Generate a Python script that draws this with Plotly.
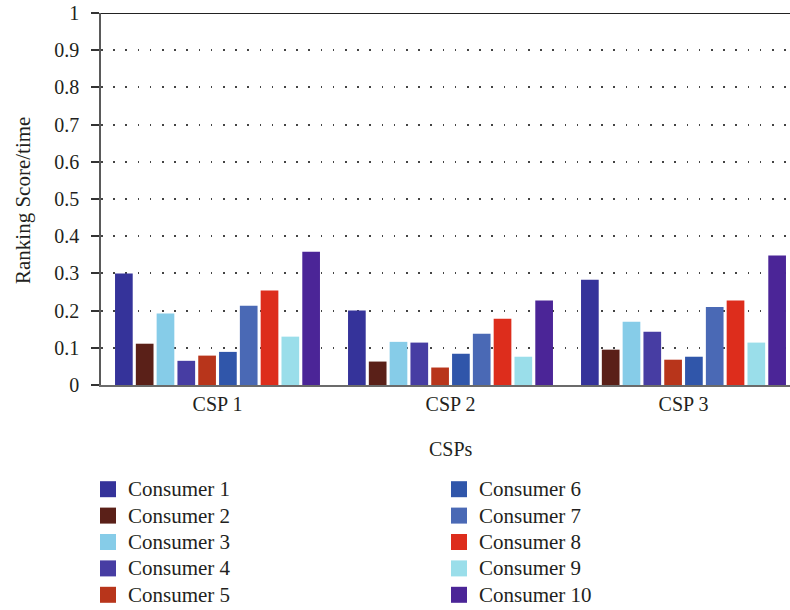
import plotly.graph_objects as go

# Ranking score per consumer for each cloud service provider
csps = ["CSP 1", "CSP 2", "CSP 3"]
consumers = [f"Consumer {i}" for i in range(1, 11)]

consumer_1 = [0.300, 0.200, 0.283]
consumer_2 = [0.111, 0.063, 0.095]
consumer_3 = [0.192, 0.116, 0.170]
consumer_4 = [0.065, 0.114, 0.143]
consumer_5 = [0.079, 0.047, 0.068]
consumer_6 = [0.089, 0.084, 0.076]
consumer_7 = [0.213, 0.138, 0.210]
consumer_8 = [0.254, 0.178, 0.227]
consumer_9 = [0.130, 0.076, 0.114]
consumer_10 = [0.358, 0.227, 0.348]

series = [consumer_1, consumer_2, consumer_3, consumer_4, consumer_5,
          consumer_6, consumer_7, consumer_8, consumer_9, consumer_10]

colors = ["#35339A", "#5A2018", "#86CCE8", "#473DA3", "#B8351B",
          "#3056AA", "#4A69B5", "#DD2D1C", "#9ADEEA", "#4B2597"]

y_ticks = [round(0.1 * i, 1) for i in range(11)]
y_tick_text = ["0"] + [f"{v:g}" for v in y_ticks[1:-1]] + ["1"]

FONT = "Liberation Serif"
TEXT = "#231f20"

fig = go.Figure()

for name, vals, col in zip(consumers, series, colors):
    fig.add_trace(go.Bar(
        x=csps, y=vals, name=name, marker=dict(color=col, line=dict(width=0)),
        showlegend=False,
    ))

# Legend entries with square swatches, split into two columns
for i, (name, col) in enumerate(zip(consumers, colors)):
    fig.add_trace(go.Scatter(
        x=[None], y=[None], mode="markers", name=f'<span style="font-size:21px">{name}</span>',
        marker=dict(symbol="square", size=16, color=col, line=dict(width=0)),
        legend="legend" if i < 5 else "legend2",
    ))

PLOT_L, PLOT_R, PLOT_T, PLOT_B = 101, 790, 13, 385
W, H = 790, 610
pw = PLOT_R - PLOT_L
ph = PLOT_B - PLOT_T

LEG_TOP = 471
legend_common = dict(
    font=dict(family=FONT, size=18, color=TEXT),
    bgcolor="rgba(0,0,0,0)", borderwidth=0,
    xref="container", yref="container",
    xanchor="left", yanchor="top", orientation="v",
    itemclick=False,
)

fig.update_layout(
    width=W, height=H,
    margin=dict(l=PLOT_L, r=W - PLOT_R, t=PLOT_T, b=H - PLOT_B, pad=0, autoexpand=False),
    paper_bgcolor="white", plot_bgcolor="white",
    font=dict(family=FONT, size=20, color=TEXT),
    barmode="group", bargap=0.107, bargroupgap=0.15,
    legend=dict(x=88 / W, y=1 - LEG_TOP / H, **legend_common),
    legend2=dict(x=439 / W, y=1 - LEG_TOP / H, **legend_common),
    xaxis=dict(
        type="category", range=[-0.5, 2 + (PLOT_R - 683.5) / 233],
        showline=True, linecolor="#6b6b6b", linewidth=2,
        ticks="", showgrid=False, zeroline=False,
        tickfont=dict(family=FONT, size=20, color=TEXT),
        ticklabelstandoff=0,
    ),
    yaxis=dict(
        range=[0, 1], tickvals=y_ticks, ticktext=y_tick_text,
        showline=True, linecolor="#5a5a5a", linewidth=1.5,
        ticks="outside", ticklen=8, tickwidth=1.5, tickcolor="#333",
        tickfont=dict(family=FONT, size=20, color=TEXT),
        ticklabelstandoff=8,
        showgrid=True, gridcolor="#444", gridwidth=1.5, griddash="1.5px,10.7px",
        zeroline=False,
    ),
    shapes=[dict(type="line", xref="paper", yref="y", x0=0, x1=1, y0=1, y1=1,
                 line=dict(color="#222", width=2))],
    annotations=[
        dict(text="CSPs", xref="x", x=1, yref="paper", y=-(449 - PLOT_B) / ph,
             yanchor="middle", xanchor="center", showarrow=False,
             font=dict(family=FONT, size=20, color=TEXT)),
        dict(text="Ranking Score/time", xref="paper", x=(23 - PLOT_L) / pw,
             yref="paper", y=(PLOT_B - 201) / ph, textangle=-90,
             xanchor="center", yanchor="middle", showarrow=False,
             font=dict(family=FONT, size=21, color=TEXT)),
    ],
)

fig.write_html("out.html")
